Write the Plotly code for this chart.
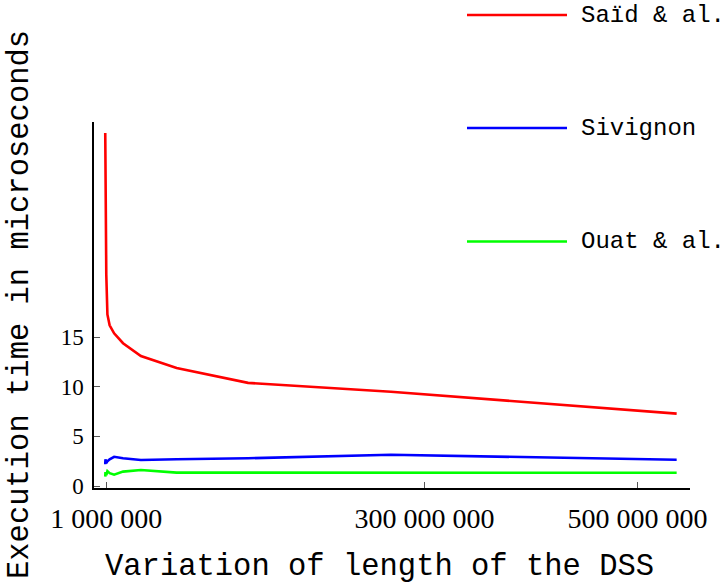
import plotly.graph_objects as go

# ---- data ----
dss_length = [65536, 262144, 1048576, 2097152, 4194304, 8388608, 16777216,
              33554432, 67108864, 134217728, 268435456, 536870912]
said_al = [35.6, 27.0, 21.3, 17.3, 16.2, 15.4, 14.4, 13.1, 11.9, 10.4, 9.5, 7.3]
sivignon = [2.2, 2.7, 2.3, 2.5, 2.7, 2.95, 2.8, 2.63, 2.7, 2.8, 3.15, 2.65]
ouat_al = [0.95, 1.4, 1.1, 1.5, 1.3, 1.15, 1.45, 1.62, 1.35, 1.35, 1.33, 1.33]

series_names = ["Saïd & al.", "Sivignon", "Ouat & al."]
series_colors = ["#ff0000", "#0000ff", "#00ff00"]
series_values = [said_al, sivignon, ouat_al]

x_tick_vals = [1000000, 300000000, 500000000]
x_tick_text = ["1 000 000", "300 000 000", "500 000 000"]
y_tick_vals = [0, 5, 10, 15]

x_title = "Variation of length of the DSS"
y_title = "Execution time in microseconds"

# ---- layout geometry ----
W, H = 724, 584
L, R, T, B = 94, 34, 122, 96
PW, PH = W - L - R, H - T - B


def px_x(px):
    return (px - L) / PW


def px_y(py):
    return (H - B - py) / PH


fig = go.Figure()
for name, color, vals in zip(series_names, series_colors, series_values):
    fig.add_trace(go.Scatter(x=dss_length, y=vals, mode="lines", name=name,
                             line=dict(color=color, width=2.6),
                             showlegend=False))

tick_font = dict(family="Liberation Serif, Times New Roman, serif", size=28, color="#000")
mono = "Liberation Mono, Courier New, monospace"

fig.update_layout(
    width=W, height=H,
    margin=dict(l=L, r=R, t=T, b=B, pad=0),
    paper_bgcolor="white", plot_bgcolor="white",
    showlegend=False,
    xaxis=dict(range=[-10.5e6, 549.4e6], showgrid=False, zeroline=False,
               showline=True, linecolor="#000", linewidth=1.5,
               ticks="inside", ticklen=6, tickwidth=1, tickcolor="#555",
               tickvals=x_tick_vals, ticktext=x_tick_text,
               tickfont=tick_font, ticklabelstandoff=5),
    yaxis=dict(range=[-0.2, 36.7], showgrid=False, zeroline=False,
               showline=True, linecolor="#000", linewidth=1.5,
               ticks="inside", ticklen=6, tickwidth=1, tickcolor="#555",
               tickvals=y_tick_vals,
               tickfont=dict(family=tick_font["family"], size=23, color="#000"),
               ticklabelstandoff=4),
)

annotations = []
# axis titles
annotations.append(dict(x=px_x(379), xref="paper", y=px_y(567), yref="paper",
                        text=x_title, showarrow=False, xanchor="center",
                        yanchor="middle", font=dict(family=mono, size=30.5, color="#000")))
annotations.append(dict(x=px_x(20), xref="paper", y=px_y(305), yref="paper",
                        text=y_title, showarrow=False, textangle=-90,
                        xanchor="center", yanchor="middle",
                        font=dict(family=mono, size=30.5, color="#000")))

shapes = []
legend_y = [15, 128, 241.5]
for name, color, ly in zip(series_names, series_colors, legend_y):
    shapes.append(dict(type="line", xref="paper", yref="paper",
                       x0=px_x(467), x1=px_x(567), y0=px_y(ly), y1=px_y(ly),
                       line=dict(color=color, width=2.6)))
    annotations.append(dict(x=px_x(579), xref="paper", y=px_y(ly), yref="paper",
                            text=name, showarrow=False, xanchor="left",
                            yanchor="middle",
                            font=dict(family=mono, size=24, color="#000")))

fig.update_layout(annotations=annotations, shapes=shapes)
fig.write_html("out.html", config={"displayModeBar": False},
               post_script="document.body.style.margin='0';document.body.style.padding='0';")
